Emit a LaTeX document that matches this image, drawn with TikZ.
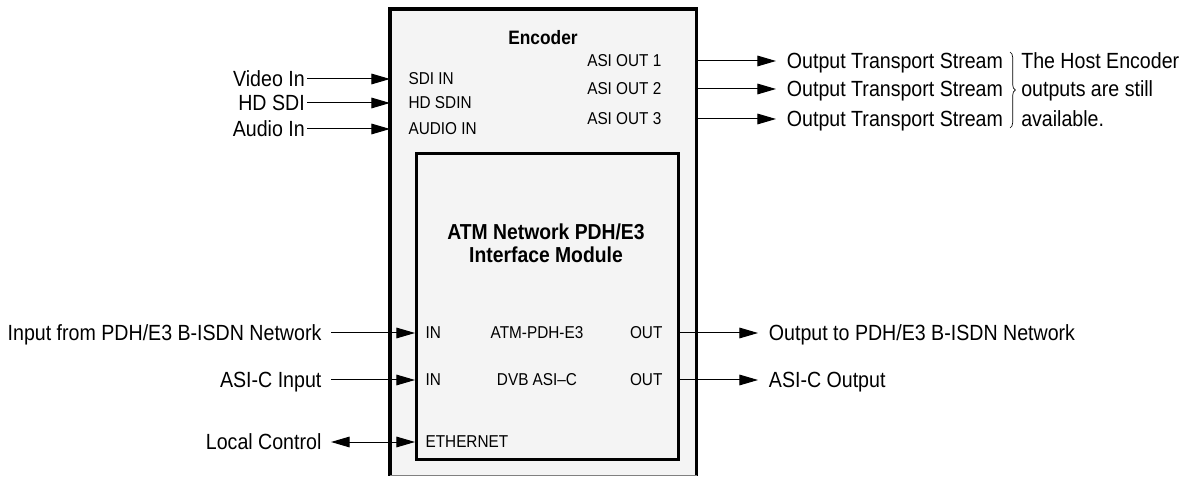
\documentclass[tikz,border=0pt]{standalone}
\usepackage{fontspec}
\setmainfont{Liberation Sans}
\usetikzlibrary{arrows.meta,positioning,calc,decorations.pathreplacing}
\definecolor{panel}{HTML}{F4F4F4}
\newcommand{\tall}[1]{\scalebox{1}[1.12]{#1}}

\begin{document}
\begin{tikzpicture}[x=0.75pt,y=-0.75pt,
  outer/.style={fill=panel,inner sep=0pt,minimum width=229.5pt,minimum height=349.5pt,anchor=north west},
  module/.style={draw,fill=panel,line width=2.4pt,inner sep=0pt,minimum width=196.5pt,minimum height=229.5pt,anchor=north west},
  port/.style={font=\fontsize{11.5}{13}\selectfont,inner sep=1pt,text height=8.8pt,text depth=0pt},
  lab/.style={font=\fontsize{14.7}{17}\selectfont,inner xsep=1.5pt,inner ysep=1pt,text height=11.8pt,text depth=0pt},
  ttl/.style={font=\bfseries\fontsize{13}{15}\selectfont,align=center},
  arr/.style={-{Triangle[length=14pt,width=8pt]},line width=0.75pt},
  dbl/.style={{Triangle[length=14pt,width=8pt]}-{Triangle[length=14pt,width=8pt]},line width=0.75pt}]
\useasboundingbox (0,0) rectangle (1193,477);
% encoder and module
\node[outer] (enc) at (390,9) {};
\draw[line width=2.4pt] (enc.south west) |- (enc.north east) -- (enc.south east);
\draw[gray,line width=0.75pt] (enc.south west) -- (enc.south east);
\node[module] (mod) at (415,152) {};
\node[ttl] (enctitle) at (543,38) {\tall{Encoder}};
\node[ttl,font=\bfseries\fontsize{14.5}{17.25}\selectfont] (modtitle) at (546,243) {\tall{ATM Network PDH/E3}\\\tall{Interface Module}};
% ports
\node[port,anchor=west] (sdi) at (407,79) {\tall{SDI IN}};
\node[port,anchor=west] (hdsdi) at (407,103) {\tall{HD SDIN}};
\node[port,anchor=west] (audio) at (407,129) {\tall{AUDIO IN}};
\node[port,anchor=east] (asi1) at (663,61) {\tall{ASI OUT 1}};
\node[port,anchor=east] (asi2) at (663,89) {\tall{ASI OUT 2}};
\node[port,anchor=east] (asi3) at (663,119) {\tall{ASI OUT 3}};
\node[port,anchor=west] (atmin) at (424,333) {\tall{IN}};
\node[port] (atm) at (537,333) {\tall{ATM-PDH-E3}};
\node[port,anchor=east] (atmout) at (664,333) {\tall{OUT}};
\node[port,anchor=west] (dvbin) at (424,380) {\tall{IN}};
\node[port] (dvb) at (537,380) {\tall{DVB ASI–C}};
\node[port,anchor=east] (dvbout) at (664,380) {\tall{OUT}};
\node[port,anchor=west] (eth) at (424,442) {\tall{ETHERNET}};
% inputs
\node[lab,anchor=east] (vin) at (307,79) {\tall{Video In}};
\node[lab,anchor=east] (hdin) at (307,103) {\tall{HD SDI}};
\node[lab,anchor=east] (ain) at (307,129) {\tall{Audio In}};
\node[lab,anchor=east,inner xsep=7pt] (pin) at (331,333) {\tall{Input from PDH/E3 B-ISDN Network}};
\node[lab,anchor=east,inner xsep=7pt] (cin) at (331,380) {\tall{ASI-C Input}};
\node[lab,anchor=east,inner xsep=7pt] (lctl) at (331,442) {\tall{Local Control}};
% outputs
\node[lab,anchor=west,inner xsep=8pt] (ts1) at (776,61) {\tall{Output Transport Stream}};
\node[lab,anchor=west,inner xsep=8pt] (ts2) at (776,89) {\tall{Output Transport Stream}};
\node[lab,anchor=west,inner xsep=8pt] (ts3) at (776,119) {\tall{Output Transport Stream}};
\node[lab,anchor=west,inner xsep=8pt] (pout) at (758,333) {\tall{Output to PDH/E3 B-ISDN Network}};
\node[lab,anchor=west,inner xsep=8pt] (cout) at (758,380) {\tall{ASI-C Output}};
\node[lab,anchor=west] (note1) at (1019,61) {\tall{The Host Encoder}};
\node[lab,anchor=west] (note2) at (1019,89) {\tall{outputs are still}};
\node[lab,anchor=west] (note3) at (1019,119) {\tall{available.}};
\draw[decorate,decoration={brace,amplitude=4pt},line width=0.5pt] (1010,52) -- (1010,128);
% connectors
\draw[arr] (vin.east) -- (vin.east -| enc.west);
\draw[arr] (hdin.east) -- (hdin.east -| enc.west);
\draw[arr] (ain.east) -- (ain.east -| enc.west);
\draw[arr] (pin.east) -- (pin.east -| mod.west);
\draw[arr] (cin.east) -- (cin.east -| mod.west);
\draw[dbl] (lctl.east) -- (lctl.east -| mod.west);
\draw[arr] (ts1.west -| enc.east) -- (ts1.west);
\draw[arr] (ts2.west -| enc.east) -- (ts2.west);
\draw[arr] (ts3.west -| enc.east) -- (ts3.west);
\draw[arr] (pout.west -| mod.east) -- (pout.west);
\draw[arr] (cout.west -| mod.east) -- (cout.west);
\end{tikzpicture}
\end{document}
